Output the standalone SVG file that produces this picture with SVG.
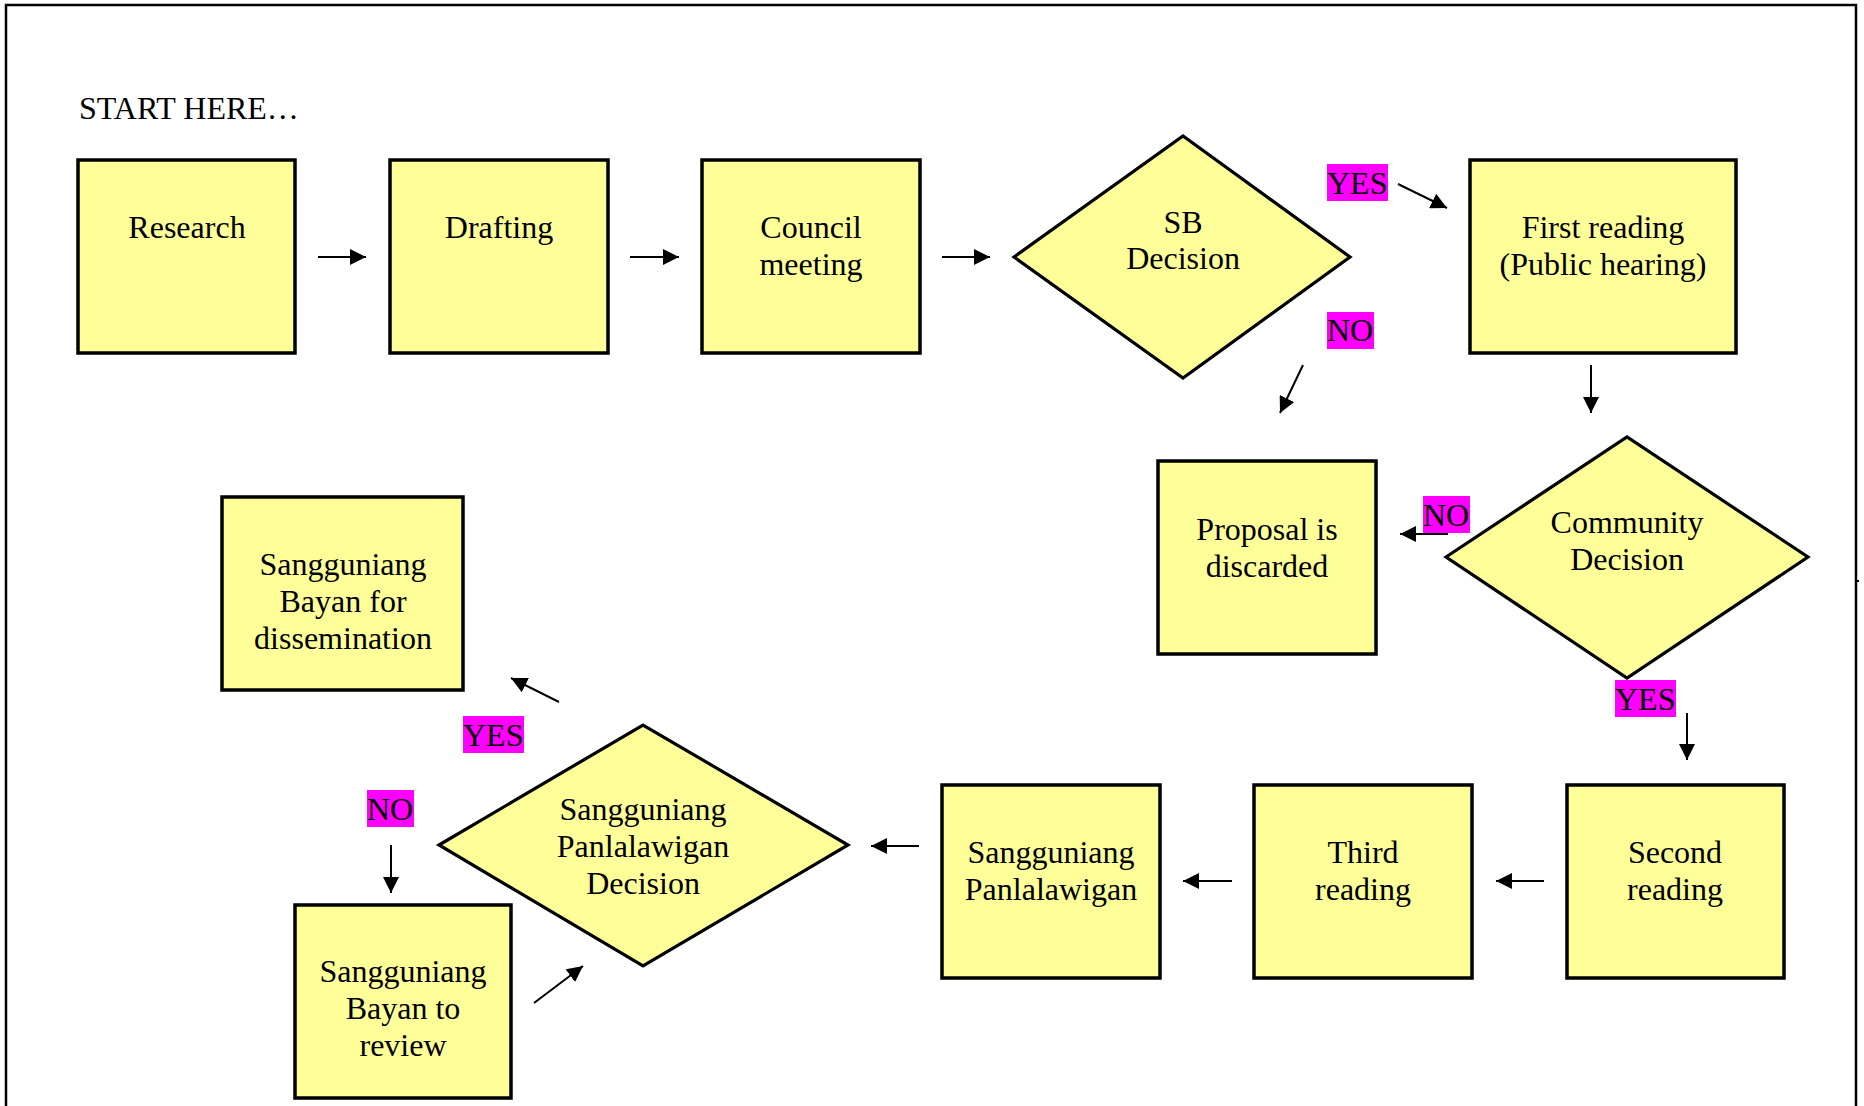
<svg xmlns="http://www.w3.org/2000/svg" width="1864" height="1106" viewBox="0 0 1864 1106">
<defs>
<style>
.box{fill:#FFFF99;stroke:#000;stroke-width:3.5}
.dia{fill:#FFFF99;stroke:#000;stroke-width:3.2;stroke-linejoin:miter}
.t{font-family:"Liberation Serif","Times New Roman",serif;font-size:32px;fill:#000;text-anchor:middle}
.lt{font-family:"Liberation Serif","Times New Roman",serif;font-size:32px;fill:#000}
.hl{fill:#FF00FF}
.c{stroke:#000;stroke-width:2;fill:none;marker-end:url(#ah)}
</style>
<marker id="ah" markerUnits="userSpaceOnUse" markerWidth="17" markerHeight="16" refX="16" refY="8" orient="auto">
<path d="M0,0 L16,8 L0,16 z" fill="#000"/>
</marker>
</defs>
<rect width="1864" height="1106" fill="#fff"/>
<path d="M6,1106 V5 H1856 V1106" fill="none" stroke="#000" stroke-width="2.5"/>
<line x1="1856" y1="581" x2="1859" y2="581" stroke="#000" stroke-width="2"/>
<text class="lt" x="79" y="119">START HERE…</text>

<g id="n-research"><rect class="box" x="78" y="160" width="217" height="193"/><text class="t" x="187" y="238">Research</text></g>
<g id="n-drafting"><rect class="box" x="390" y="160" width="218" height="193"/><text class="t" x="499" y="238">Drafting</text></g>
<g id="n-council"><rect class="box" x="702" y="160" width="218" height="193"/><text class="t" x="811" y="238">Council<tspan x="811" dy="37">meeting</tspan></text></g>
<g id="n-sbdecision"><polygon class="dia" points="1014,257 1183,136 1350,257 1183,378"/><text class="t" x="1183" y="233">SB<tspan x="1183" dy="36">Decision</tspan></text></g>
<g id="n-first"><rect class="box" x="1470" y="160" width="266" height="193"/><text class="t" x="1603" y="238">First reading<tspan x="1603" dy="37">(Public hearing)</tspan></text></g>
<g id="n-discarded"><rect class="box" x="1158" y="461" width="218" height="193"/><text class="t" x="1267" y="540">Proposal is<tspan x="1267" dy="37">discarded</tspan></text></g>
<g id="n-community"><polygon class="dia" points="1446,557 1627,437 1808,557 1627,678"/><text class="t" x="1627" y="533">Community<tspan x="1627" dy="37">Decision</tspan></text></g>
<g id="n-second"><rect class="box" x="1567" y="785" width="217" height="193"/><text class="t" x="1675" y="863">Second<tspan x="1675" dy="37">reading</tspan></text></g>
<g id="n-third"><rect class="box" x="1254" y="785" width="218" height="193"/><text class="t" x="1363" y="863">Third<tspan x="1363" dy="37">reading</tspan></text></g>
<g id="n-sp"><rect class="box" x="942" y="785" width="218" height="193"/><text class="t" x="1051" y="863">Sangguniang<tspan x="1051" dy="37">Panlalawigan</tspan></text></g>
<g id="n-spdecision"><polygon class="dia" points="439,845 643,725 848,845 643,966"/><text class="t" x="643" y="820">Sangguniang<tspan x="643" dy="37">Panlalawigan</tspan><tspan x="643" dy="37">Decision</tspan></text></g>
<g id="n-dissemination"><rect class="box" x="222" y="497" width="241" height="193"/><text class="t" x="343" y="575">Sangguniang<tspan x="343" dy="37">Bayan for</tspan><tspan x="343" dy="37">dissemination</tspan></text></g>
<g id="n-review"><rect class="box" x="295" y="905" width="216" height="193"/><text class="t" x="403" y="982">Sangguniang<tspan x="403" dy="37">Bayan to</tspan><tspan x="403" dy="37">review</tspan></text></g>

<g id="connectors">
<line class="c" x1="318" y1="257" x2="366" y2="257"/>
<line class="c" x1="630" y1="257" x2="679" y2="257"/>
<line class="c" x1="942" y1="257" x2="990" y2="257"/>
<line class="c" x1="1398" y1="184" x2="1447" y2="208"/>
<line class="c" x1="1303" y1="365" x2="1280" y2="413"/>
<line class="c" x1="1591" y1="365" x2="1591" y2="413"/>
<line class="c" x1="1448" y1="534" x2="1400" y2="534"/>
<line class="c" x1="1687" y1="713" x2="1687" y2="760"/>
<line class="c" x1="1544" y1="881" x2="1496" y2="881"/>
<line class="c" x1="1232" y1="881" x2="1183" y2="881"/>
<line class="c" x1="919" y1="846" x2="871" y2="846"/>
<line class="c" x1="559" y1="702" x2="511" y2="678"/>
<line class="c" x1="391" y1="845" x2="391" y2="893"/>
<line class="c" x1="534" y1="1003" x2="583" y2="966"/>
</g>

<g id="labels">
<rect class="hl" x="1327" y="164" width="61" height="37"/><text class="lt" x="1327" y="194">YES</text>
<rect class="hl" x="1327" y="312" width="47" height="37"/><text class="lt" x="1327" y="341">NO</text>
<rect class="hl" x="1423" y="496" width="47" height="37"/><text class="lt" x="1423" y="526">NO</text>
<rect class="hl" x="1615" y="680" width="61" height="37"/><text class="lt" x="1615" y="710">YES</text>
<rect class="hl" x="463" y="716" width="61" height="37"/><text class="lt" x="463" y="746">YES</text>
<rect class="hl" x="367" y="790" width="47" height="37"/><text class="lt" x="367" y="820">NO</text>
</g>
</svg>
